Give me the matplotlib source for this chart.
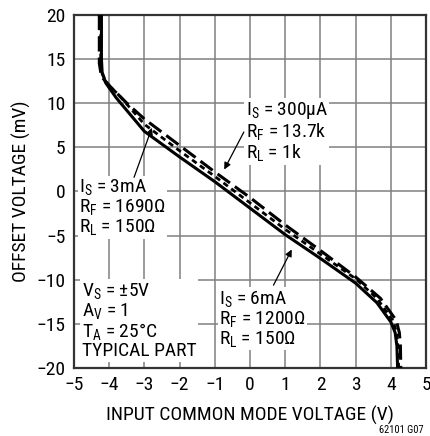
import matplotlib
matplotlib.use("Agg")
import matplotlib.pyplot as plt

plt.rcParams['font.family'] = ['Roboto Condensed', 'Liberation Sans', 'DejaVu Sans']
plt.rcParams['mathtext.fontset'] = 'custom'
plt.rcParams['mathtext.rm'] = 'Roboto Condensed'
plt.rcParams['mathtext.it'] = 'Roboto Condensed'

# curve data (x = input common mode V, y = offset mV)
x_6ma = [-4.22, -4.22, -4.2, -4.1, -3.8, -3.0, -2.0, -1.0, 0.0, 1.0, 2.0, 3.0, 3.6, 4.0, 4.12, 4.17, 4.19]
y_6ma = [20, 15, 13.5, 12.3, 10.6, 6.8, 3.9, 1.1, -1.9, -4.9, -7.6, -10.4, -12.6, -14.8, -16.0, -17.5, -20]

x_3ma = [-4.24, -4.24, -4.2, -4.05, -3.7, -3.0, -2.0, -1.0, 0.0, 1.0, 2.0, 3.0, 3.6, 4.05, 4.15, 4.2, 4.22]
y_3ma = [20, 15, 13.3, 12.2, 10.8, 7.6, 4.6, 1.7, -1.3, -4.3, -7.1, -9.9, -12.1, -14.6, -15.8, -17.5, -20]

x_300ua = [-4.28, -4.28, -4.22, -4.0, -3.5, -3.0, -2.0, -1.0, 0.0, 1.0, 2.0, 3.0, 3.7, 4.15, 4.24, 4.27, 4.28]
y_300ua = [20, 14.5, 13.0, 12.0, 10.0, 8.2, 5.2, 2.2, -0.7, -3.8, -6.7, -9.7, -12.1, -14.6, -16.0, -17.5, -20]

xticks = [-5, -4, -3, -2, -1, 0, 1, 2, 3, 4, 5]
yticks = [-20, -15, -10, -5, 0, 5, 10, 15, 20]

fig = plt.figure(figsize=(4.3, 4.36), dpi=100)
ax = fig.add_axes([0.172, 0.156, 0.819, 0.81])
ax.set_xlim(-5, 5)
ax.set_ylim(-20, 20)
ax.set_xticks(xticks)
ax.set_yticks(yticks)
ax.set_xticklabels([str(t).replace('-', '\u2212') for t in xticks])
ax.set_yticklabels([str(t).replace('-', '\u2212') for t in yticks])
ax.tick_params(length=0, labelsize=14, pad=6)
ax.grid(True, color='#808080', lw=1.1)
ax.set_axisbelow(True)
for s in ax.spines.values():
    s.set_linewidth(1.6)
    s.set_color('#333333')

ax.plot(x_6ma, y_6ma, color='black', lw=2.2, zorder=3)
ax.plot(x_3ma, y_3ma, color='black', lw=2.0, dashes=(2, 1.5), zorder=3)
ax.plot(x_300ua, y_300ua, color='black', lw=2.2, dashes=(5, 2), zorder=3)

ax.set_xlabel('INPUT COMMON MODE VOLTAGE (V)', fontsize=14, labelpad=8)
ax.set_ylabel('OFFSET VOLTAGE (mV)', fontsize=14, labelpad=4)

box = dict(facecolor='white', edgecolor='none', pad=1)
ts = 14
ax.text(-0.12, 10.3, r'I$_\mathregular{S}$ = 300µA' '\n' r'R$_\mathregular{F}$ = 13.7k' '\n' r'R$_\mathregular{L}$ = 1k',
        fontsize=ts, va='top', ha='left', linespacing=1.0, bbox=box, zorder=4)
ax.text(-4.85, 1.6, r'I$_\mathregular{S}$ = 3mA' '\n' r'R$_\mathregular{F}$ = 1690Ω' '\n' r'R$_\mathregular{L}$ = 150Ω',
        fontsize=ts, va='top', ha='left', linespacing=1.0, bbox=box, zorder=4)
ax.text(-0.88, -11.0, r'I$_\mathregular{S}$ = 6mA' '\n' r'R$_\mathregular{F}$ = 1200Ω' '\n' r'R$_\mathregular{L}$ = 150Ω',
        fontsize=ts, va='top', ha='left', linespacing=1.0, bbox=box, zorder=4)
ax.text(-4.78, -10.2, r'V$_\mathregular{S}$ = ±5V' '\n' r'A$_\mathregular{V}$ = 1' '\n' r'T$_\mathregular{A}$ = 25°C' '\nTYPICAL PART',
        fontsize=ts, va='top', ha='left', linespacing=1.0, bbox=box, zorder=4)

arrow = dict(arrowstyle='-|>', color='black', lw=0.9, mutation_scale=10)
ax.annotate('', xy=(-2.76, 7.5), xytext=(-3.32, 1.3), arrowprops=arrow, zorder=5)
ax.annotate('', xy=(-0.77, 2.2), xytext=(-0.14, 7.0), arrowprops=arrow, zorder=5)
ax.annotate('', xy=(1.22, -6.3), xytext=(0.63, -10.9), arrowprops=arrow, zorder=5)

fig.text(0.985, 0.003, '62101 G07', fontsize=7.5, ha='right', va='bottom')

fig.savefig('out.png', dpi=100)
